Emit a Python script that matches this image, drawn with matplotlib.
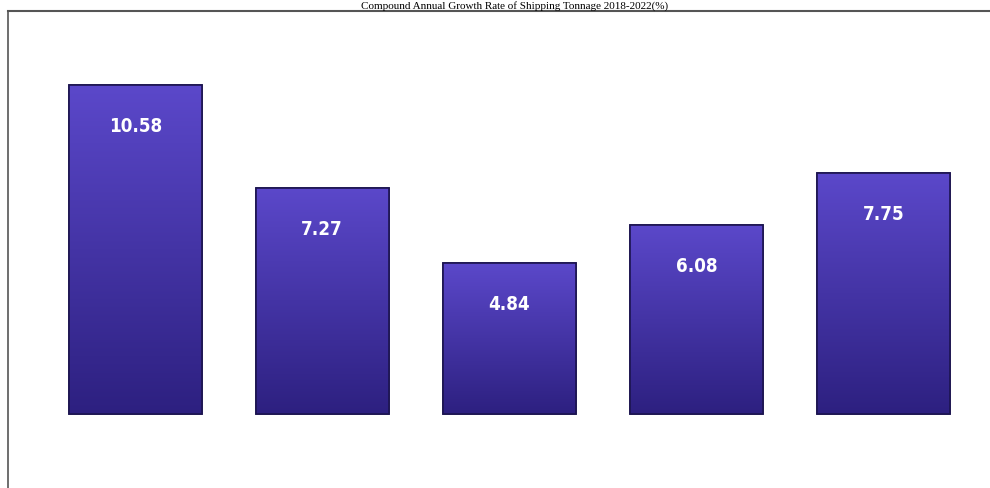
"""Bar chart: annual growth of shipping (%), five periods."""

import matplotlib
matplotlib.use("Agg")
import matplotlib.pyplot as plt
from matplotlib.colors import LinearSegmentedColormap
import numpy as np

categories = ["2018", "2019", "2020", "2021", "2022"]
values = [10.58, 7.27, 4.84, 6.08, 7.75]
value_labels = ["10.58", "7.27", "4.84", "6.08", "7.75"]
title = "Compound Annual Growth Rate of Shipping Tonnage 2018-2022(%)"


def main() -> None:
    fig = plt.figure(figsize=(9.9, 4.89), dpi=100)
    ax = fig.add_axes([8 / 990, 0, 982 / 990, 477 / 489])

    x = np.arange(len(values))
    bars = ax.bar(x, values, width=0.71, color="#3f2fa6",
                  edgecolor="#1c1450", linewidth=1.2, zorder=2)

    # vertical purple gradient clipped to each bar, lighter at the top
    cmap = LinearSegmentedColormap.from_list("bar", ["#5b48ca", "#2d2080"])
    grad = np.linspace(0, 1, 256).reshape(-1, 1)
    for b in bars:
        x0, y0 = b.get_x(), b.get_y()
        w, h = b.get_width(), b.get_height()
        im = ax.imshow(grad, cmap=cmap, aspect="auto", origin="upper",
                       extent=(x0, x0 + w, y0, y0 + h), zorder=3)
        im.set_clip_path(b)
        ax.add_patch(plt.Rectangle((x0, y0), w, h, fill=False,
                                   edgecolor="#1c1450", linewidth=1.2, zorder=4))

    for xi, v, lab in zip(x, values, value_labels):
        ax.annotate(lab, (xi, v), xytext=(0, -29), textcoords="offset points",
                    ha="center", va="center", color="white", fontsize=13.5,
                    fontweight="bold", fontstretch="condensed", zorder=5)

    ax.set_xlim(-0.68, 4.57)
    ax.set_ylim(-2.38, 12.96)
    ax.set_xticks([])
    ax.set_yticks([])
    for side in ("right", "bottom"):
        ax.spines[side].set_visible(False)
    ax.spines["left"].set_color("#555555")
    ax.spines["top"].set_color("#555555")
    ax.spines["left"].set_linewidth(1.2)
    ax.spines["top"].set_linewidth(1.5)

    fig.text(0.52, 1 - 1 / 489, title, ha="center", va="top",
             fontsize=8, family="Liberation Serif")

    fig.savefig("out.png", dpi=100)


if __name__ == "__main__":
    main()
